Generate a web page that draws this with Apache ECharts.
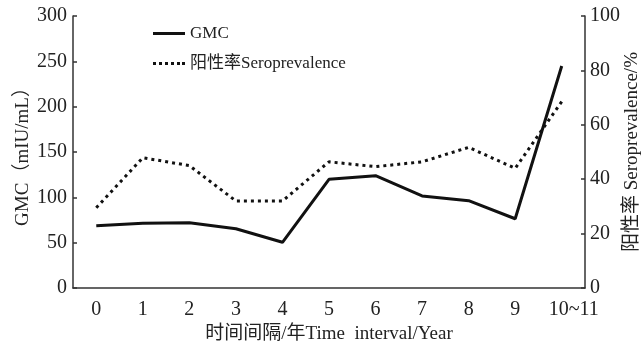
<!DOCTYPE html>
<html>
<head>
<meta charset="utf-8">
<script src="https://cdn.jsdelivr.net/npm/echarts@6/dist/echarts.min.js"></script>
<style>
  html, body { margin: 0; padding: 0; background: #fff; }
  #chart { width: 641px; height: 341px; }
</style>
</head>
<body>
<div id="chart"></div>
<script>
// 时间间隔 GMC / 阳性率 双轴折线图
const categories = ['0', '1', '2', '3', '4', '5', '6', '7', '8', '9', '10~11'];
const gmcValues = [68.7, 71.4, 72, 65.4, 50.4, 119.9, 123.9, 101.5, 96.3, 76.4, 244.9];
const seroValues = [29.5, 47.9, 45, 32, 32, 46.4, 44.6, 46.4, 51.7, 44, 68.5];
const leftTicks = [0, 300, 50]; // min, max, interval
const rightTicks = [0, 100, 20];

const font = "'Liberation Serif', 'Noto Sans CJK SC', serif";
const axisColor = '#333';
const textColor = '#222';

// 图例图标：实线 / 点线
const solidIcon = 'path://M0,0H32V3H0Z';
const dottedIcon = 'path://M0,0H3V3H0Z M6,0H9V3H6Z M12,0H15V3H12Z M18,0H21V3H18Z M24,0H27V3H24Z M29,0H32V3H29Z';

// 最后一个标签在原图中略偏右
const xData = categories.map((c, i) =>
  i === categories.length - 1 ? { value: c, textStyle: { padding: [0, 0, 0, 24] } } : c
);

const myChart = echarts.init(document.getElementById('chart'));

const option = {
  animation: false,
  backgroundColor: '#fff',
  grid: { left: 73, right: 56, top: 16, bottom: 53, containLabel: false, outerBoundsMode: 'none' },
  legend: {
    left: 148,
    top: 20,
    orient: 'vertical',
    itemWidth: 32,
    itemHeight: 3,
    itemGap: 13,
    textStyle: { fontFamily: font, fontSize: 17, color: textColor },
    data: [
      { name: 'GMC', icon: solidIcon, itemStyle: { color: '#111' } },
      { name: '阳性率Seroprevalence', icon: dottedIcon, itemStyle: { color: '#111' } },
    ],
  },
  xAxis: {
    type: 'category',
    data: xData,
    boundaryGap: true,
    name: '时间间隔/年Time  interval/Year',
    nameLocation: 'middle',
    nameGap: 37,
    nameMoveOverlap: false,
    nameTextStyle: { fontFamily: font, fontSize: 19, color: textColor },
    axisLine: { lineStyle: { color: axisColor, width: 1.5 } },
    axisTick: { inside: true, length: 5, lineStyle: { color: axisColor, width: 1.5 } },
    axisLabel: { interval: 0, fontFamily: font, fontSize: 20, color: textColor, margin: 12 },
  },
  yAxis: [
    {
      type: 'value',
      min: leftTicks[0],
      max: leftTicks[1],
      interval: leftTicks[2],
      name: 'GMC（mIU/mL）',
      nameLocation: 'middle',
      nameGap: 40,
      nameMoveOverlap: false,
      nameTextStyle: { fontFamily: font, fontSize: 19, color: textColor },
      axisLine: { show: true, lineStyle: { color: axisColor, width: 1.5 } },
      axisTick: { show: true, inside: true, length: 4, lineStyle: { color: axisColor, width: 1.5 } },
      axisLabel: { fontFamily: font, fontSize: 20, color: textColor, margin: 6 },
      splitLine: { show: false },
    },
    {
      type: 'value',
      min: rightTicks[0],
      max: rightTicks[1],
      interval: rightTicks[2],
      position: 'right',
      name: '阳性率 Seroprevalence/%',
      nameLocation: 'middle',
      nameGap: 38,
      nameMoveOverlap: false,
      nameTextStyle: { fontFamily: font, fontSize: 19, color: textColor },
      axisLine: { show: true, lineStyle: { color: axisColor, width: 1.5 } },
      axisTick: { show: true, inside: true, length: 4, lineStyle: { color: axisColor, width: 1.5 } },
      axisLabel: { fontFamily: font, fontSize: 20, color: textColor, margin: 5 },
      splitLine: { show: false },
    },
  ],
  series: [
    {
      name: 'GMC',
      type: 'line',
      yAxisIndex: 0,
      symbol: 'none',
      data: gmcValues,
      lineStyle: { color: '#111', width: 3 },
      itemStyle: { color: '#111' },
    },
    {
      name: '阳性率Seroprevalence',
      type: 'line',
      yAxisIndex: 1,
      symbol: 'none',
      data: seroValues,
      lineStyle: { color: '#111', width: 3, type: [3, 4] },
      itemStyle: { color: '#111' },
    },
  ],
};
myChart.setOption(option);
</script>
</body>
</html>
